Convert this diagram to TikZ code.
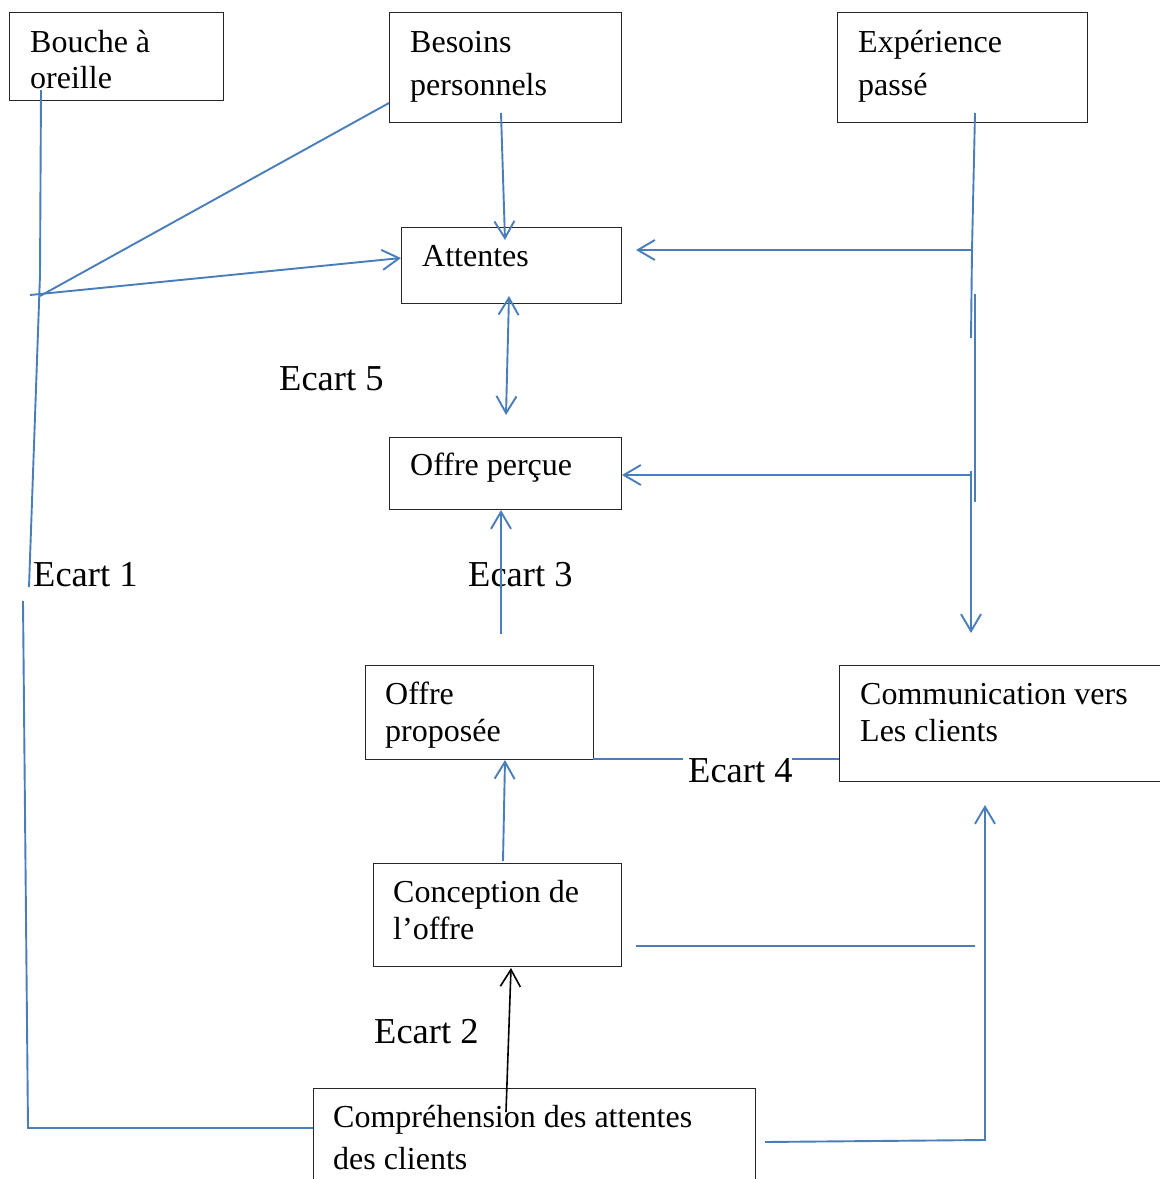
\documentclass[tikz,border=0pt]{standalone}
\usepackage{fontspec}
\setmainfont{Liberation Serif}
\usetikzlibrary{arrows.meta}
\definecolor{lineblue}{HTML}{4A7EBB}
\begin{document}
\begin{tikzpicture}[x=1pt,y=-1pt,
  box/.style={draw=black!85, line width=1.2pt, anchor=north west, inner sep=0pt, rectangle},
  txt/.style={anchor=base west, inner sep=0pt, font=\fontsize{32}{38}\selectfont},
  gaplabel/.style={anchor=base west, inner sep=0pt, font=\fontsize{36.5}{44}\selectfont},
  conn/.style={draw=lineblue, line width=1.9pt, line join=miter},
  tipend/.style={-{Straight Barb[length=17pt,width=20pt]}},
  tipboth/.style={{Straight Barb[length=17pt,width=20pt]}-{Straight Barb[length=17pt,width=20pt]}}
]
\useasboundingbox (0,0) rectangle (1160,1179);
\begin{scope}
\clip (0,0) rectangle (1160,1179);
% boxes
\node[box, minimum width=214pt, minimum height=88pt] (bouche) at (9,12) {};
\node[box, minimum width=232pt, minimum height=110pt] (besoins) at (389,12) {};
\node[box, minimum width=250pt, minimum height=110pt] (exper) at (837,12) {};
\node[box, minimum width=220pt, minimum height=76pt] (attentes) at (401,227) {};
\node[box, minimum width=232pt, minimum height=72pt] (percue) at (389,437) {};
\node[box, minimum width=228pt, minimum height=94pt] (proposee) at (365,665) {};
\node[box, minimum width=340pt, minimum height=116pt] (comm) at (839,665) {};
\node[box, minimum width=248pt, minimum height=103pt] (concep) at (373,863) {};
\node[box, minimum width=442pt, minimum height=130pt] (compr) at (313,1088) {};

% box texts
\node[txt] (t1a) at (30,52) {Bouche à};
\node[txt] (t1b) at (30,88) {oreille};
\node[txt] (t2a) at (410,52) {Besoins};
\node[txt] (t2b) at (410,95) {personnels};
\node[txt] (t3a) at (858,52) {Expérience};
\node[txt] (t3b) at (858,95) {passé};
\node[txt] (t4) at (422,266) {Attentes};
\node[txt] (t5) at (410,475) {Offre perçue};
\node[txt] (t6a) at (385,704) {Offre};
\node[txt] (t6b) at (385,741) {proposée};
\node[txt] (t7a) at (860,704) {Communication vers};
\node[txt] (t7b) at (860,741) {Les clients};
\node[txt] (t8a) at (393,902) {Conception de};
\node[txt] (t8b) at (393,939) {l’offre};
\node[txt] (t9a) at (333,1127) {Compréhension des attentes};
\node[txt] (t9b) at (333,1169) {des clients};

% gap labels
\node[gaplabel] (e5) at (279,390) {Ecart 5};
\node[gaplabel] (e1) at (33,586) {Ecart 1};
\node[gaplabel] (e3) at (468,586) {Ecart 3};
\node[gaplabel] (e4) at (688,782) {Ecart 4};
\node[gaplabel] (e2) at (374,1043) {Ecart 2};

% coordinates
\coordinate (b1) at (41,90);
\coordinate (b2) at (40,275);
\coordinate (b3) at (29,587);
\coordinate (c1) at (23,601);
\coordinate (c2) at (28,1128);
\coordinate (c3) at (313,1128);
\coordinate (h1) at (30,295);
\coordinate (h2) at (401,258);
\coordinate (d1) at (389,103);
\coordinate (d2) at (40,296);
\coordinate (p1) at (501,113);
\coordinate (p2) at (505,240);
\coordinate (a1) at (509,296);
\coordinate (a2) at (506,415);
\coordinate (x1) at (975,113);
\coordinate (x2) at (972,250);
\coordinate (x3) at (971,338);
\coordinate (x4) at (636,250);
\coordinate (y1) at (975,294);
\coordinate (y2) at (975,502);
\coordinate (z1) at (971,471);
\coordinate (z2) at (971,633);
\coordinate (z3) at (972,475);
\coordinate (z4) at (622,475);
\coordinate (o1) at (501,634);
\coordinate (o2) at (501,510);
\coordinate (g1) at (593,759);
\coordinate (g2) at (683,759);
\coordinate (g3) at (792,759);
\coordinate (g4) at (839,759);
\coordinate (k1) at (503,861);
\coordinate (k2) at (505,760);
\coordinate (m1) at (506,1112);
\coordinate (m2) at (511,968);
\coordinate (n1) at (636,946);
\coordinate (n2) at (975,946);
\coordinate (r1) at (765,1142);
\coordinate (r2) at (985,1140);
\coordinate (r3) at (985,805);

% connectors
\draw[conn] (b1) -- (b2) -- (b3);
\draw[conn] (c1) -- (c2) -- (c3);
\draw[conn, tipend] (h1) -- (h2);
\draw[conn] (d1) -- (d2);
\draw[conn, tipend] (p1) -- (p2);
\draw[conn, tipboth] (a1) -- (a2);
\draw[conn] (x1) -- (x2) -- (x3);
\draw[conn, tipend] (x2) -- (x4);
\draw[conn] (y1) -- (y2);
\draw[conn, tipend] (z1) -- (z2);
\draw[conn, tipend] (z3) -- (z4);
\draw[conn, tipend] (o1) -- (o2);
\draw[conn] (g1) -- (g2);
\draw[conn] (g3) -- (g4);
\draw[conn, tipend] (k1) -- (k2);
\draw[draw=black, line width=1.6pt, tipend] (m1) -- (m2);
\draw[conn] (n1) -- (n2);
\draw[conn, tipend] (r1) -- (r2) -- (r3);
\end{scope}
\end{tikzpicture}
\end{document}
